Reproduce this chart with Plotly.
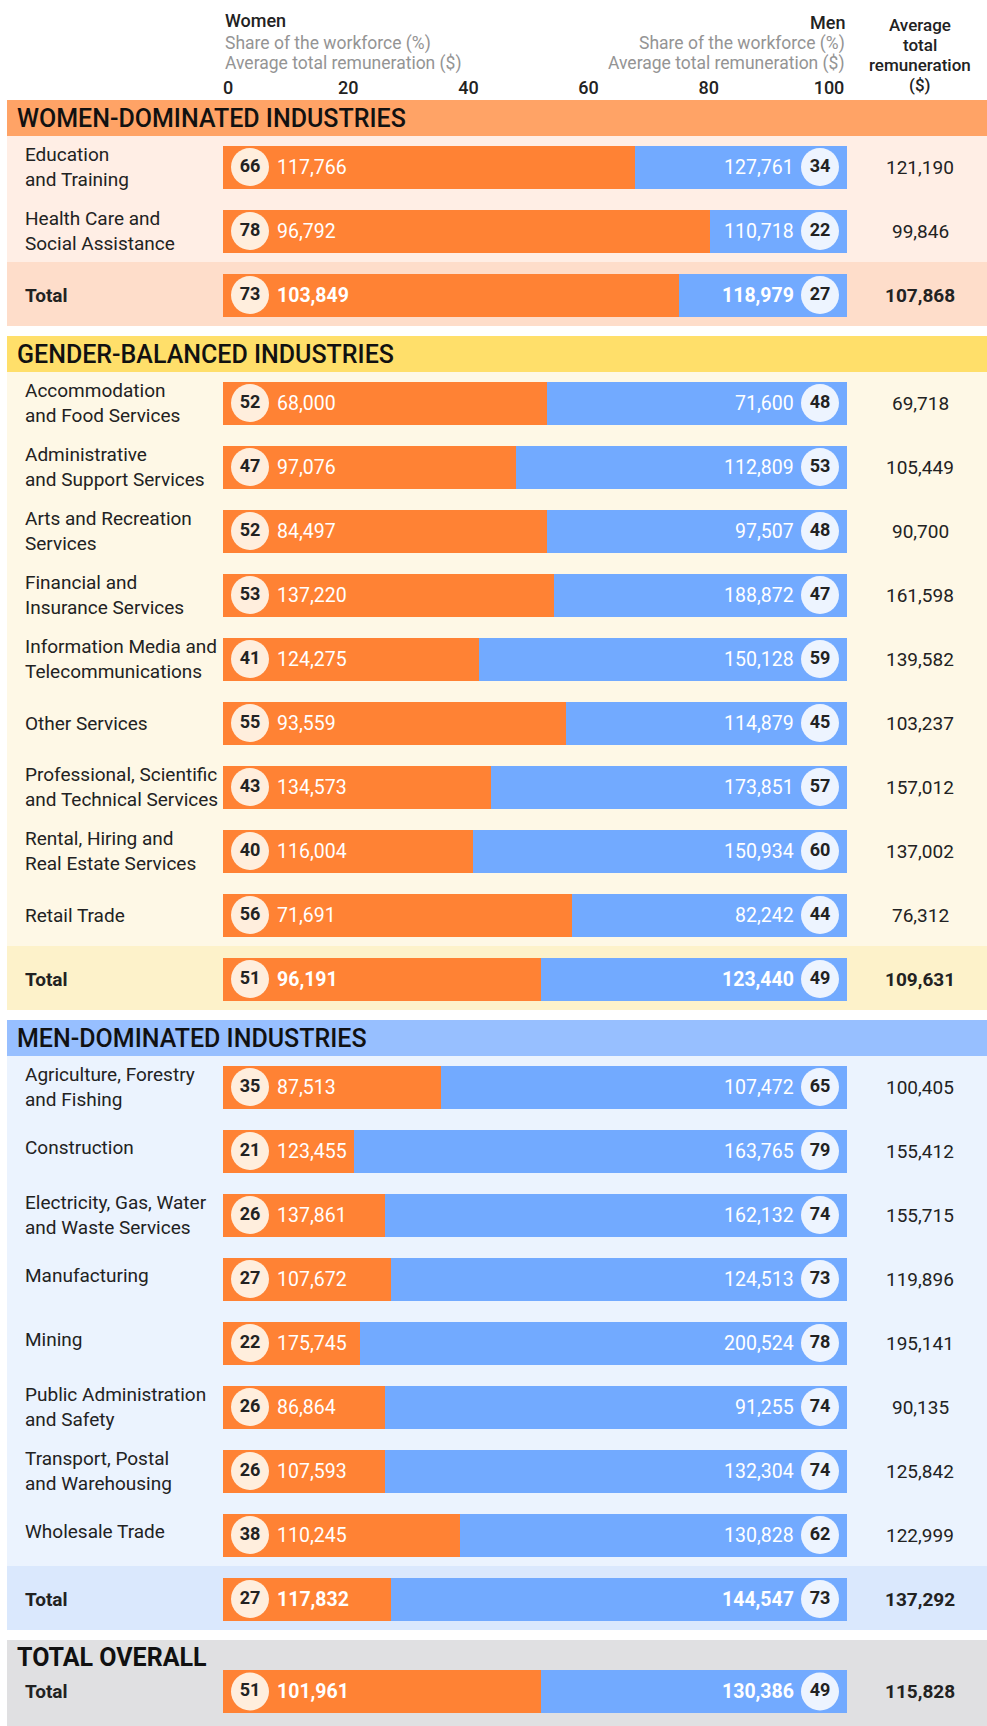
import plotly.graph_objects as go

# ---------------- data ----------------
section_titles = ["WOMEN-DOMINATED INDUSTRIES", "GENDER-BALANCED INDUSTRIES",
                  "MEN-DOMINATED INDUSTRIES", "TOTAL OVERALL"]

industries = [
    "Education<br>and Training", "Health Care and<br>Social Assistance", "Total",
    "Accommodation<br>and Food Services", "Administrative<br>and Support Services",
    "Arts and Recreation<br>Services", "Financial and<br>Insurance Services",
    "Information Media and<br>Telecommunications", "Other Services",
    "Professional, Scientific<br>and Technical Services",
    "Rental, Hiring and<br>Real Estate Services", "Retail Trade", "Total",
    "Agriculture, Forestry<br>and Fishing", "Construction",
    "Electricity, Gas, Water<br>and Waste Services", "Manufacturing", "Mining",
    "Public Administration<br>and Safety", "Transport, Postal<br>and Warehousing",
    "Wholesale Trade", "Total",
    "Total",
]
row_section = [0, 0, 0,
               1, 1, 1, 1, 1, 1, 1, 1, 1, 1,
               2, 2, 2, 2, 2, 2, 2, 2, 2,
               3]
row_is_total = [False, False, True,
                False, False, False, False, False, False, False, False, False, True,
                False, False, False, False, False, False, False, False, True,
                True]

women_share = [66, 78, 73,
               52, 47, 52, 53, 41, 55, 43, 40, 56, 51,
               35, 21, 26, 27, 22, 26, 26, 38, 27,
               51]
men_share = [34, 22, 27,
             48, 53, 48, 47, 59, 45, 57, 60, 44, 49,
             65, 79, 74, 73, 78, 74, 74, 62, 73,
             49]
women_pay = [117766, 96792, 103849,
             68000, 97076, 84497, 137220, 124275, 93559, 134573, 116004, 71691, 96191,
             87513, 123455, 137861, 107672, 175745, 86864, 107593, 110245, 117832,
             101961]
men_pay = [127761, 110718, 118979,
           71600, 112809, 97507, 188872, 150128, 114879, 173851, 150934, 82242, 123440,
           107472, 163765, 162132, 124513, 200524, 91255, 132304, 130828, 144547,
           130386]
avg_pay = [121190, 99846, 107868,
           69718, 105449, 90700, 161598, 139582, 103237, 157012, 137002, 76312, 109631,
           100405, 155412, 155715, 119896, 195141, 90135, 125842, 122999, 137292,
           115828]

axis_ticks = [0, 20, 40, 60, 80, 100]
avg_header_lines = ["Average", "total", "remuneration", "($)"]

# ---------------- styling / layout constants ----------------
W, H = 987, 1726
FONT = "Roboto"
ORANGE = "#FF8234"
BLUE = "#72AAFF"
W_CIRCLE = "#FFEEDD"
M_CIRCLE = "#EDF4FF"
TEXT = "#222222"
GREY = "#949494"

header_colors = ["#FFA366", "#FFDF6A", "#97BFFF", "#E0E0E2"]
rows_colors = ["#FFEEE5", "#FEF8E6", "#EBF3FE", "#E0E0E2"]
total_colors = ["#FEDDCA", "#FDF2CA", "#DAE8FD", "#E0E0E2"]

BAR_L, BAR_R = 223, 847          # pixel extent of the 0..100 bar scale
BAR_H = 43
PX = (BAR_R - BAR_L) / 100.0     # pixels per percentage point
CIRCLE_OFF = 27                  # px from bar end to circle centre
PANEL_X0 = 7
AVG_X = 920
LABEL_X = 23

# ---------------- compute vertical layout ----------------
row_y = [0.0] * len(industries)
shapes = []
header_text_y = {}
y = 100.0
for s in range(4):
    idx = [i for i in range(len(industries)) if row_section[i] == s]
    if s < 3:
        htop, hbot = y, y + 36
        shapes.append(dict(type="rect", xref="paper", yref="y", x0=PANEL_X0 / W, x1=1,
                           y0=htop, y1=hbot, fillcolor=header_colors[s], line_width=0, layer="below"))
        header_text_y[s] = htop + 18
        regular = [i for i in idx if not row_is_total[i]]
        c = hbot + 31
        for k, i in enumerate(regular):
            row_y[i] = c + k * 64
        last = row_y[regular[-1]]
        ttop = last + 31
        shapes.append(dict(type="rect", xref="paper", yref="y", x0=PANEL_X0 / W, x1=1,
                           y0=hbot, y1=ttop, fillcolor=rows_colors[s], line_width=0, layer="below"))
        shapes.append(dict(type="rect", xref="paper", yref="y", x0=PANEL_X0 / W, x1=1,
                           y0=ttop, y1=ttop + 64, fillcolor=total_colors[s], line_width=0, layer="below"))
        for i in idx:
            if row_is_total[i]:
                row_y[i] = ttop + 33
        y = ttop + 64 + 10
    else:
        shapes.append(dict(type="rect", xref="paper", yref="y", x0=PANEL_X0 / W, x1=1,
                           y0=y, y1=H, fillcolor=header_colors[s], line_width=0, layer="below"))
        header_text_y[s] = y + 17
        for i in idx:
            row_y[i] = y + 51.5

fig = go.Figure()

fig.add_trace(go.Bar(orientation="h", y=row_y, x=women_share, base=[0] * len(women_share),
                     width=BAR_H, marker=dict(color=ORANGE, line=dict(width=0)),
                     hoverinfo="skip", showlegend=False))
fig.add_trace(go.Bar(orientation="h", y=row_y, x=men_share, base=women_share,
                     width=BAR_H, marker=dict(color=BLUE, line=dict(width=0)),
                     hoverinfo="skip", showlegend=False))

fig.add_trace(go.Scatter(x=[CIRCLE_OFF / PX] * len(row_y), y=row_y, mode="markers+text",
                         text=[str(v) for v in women_share], textposition="middle center",
                         marker=dict(size=38, color=W_CIRCLE, line=dict(width=0)),
                         textfont=dict(family=FONT, size=18, color=TEXT, weight="bold"),
                         hoverinfo="skip", showlegend=False, cliponaxis=False))
fig.add_trace(go.Scatter(x=[100 - CIRCLE_OFF / PX] * len(row_y), y=row_y, mode="markers+text",
                         text=[str(v) for v in men_share], textposition="middle center",
                         marker=dict(size=38, color=M_CIRCLE, line=dict(width=0)),
                         textfont=dict(family=FONT, size=18, color=TEXT, weight="bold"),
                         hoverinfo="skip", showlegend=False, cliponaxis=False))

# empty trace so that the top tick axis is drawn
fig.add_trace(go.Scatter(x=[None], y=[None], xaxis="x2", yaxis="y2", showlegend=False,
                         hoverinfo="skip"))

annotations = []
for i, lab in enumerate(industries):
    tot = row_is_total[i]
    wt = "bold" if tot else "normal"
    shift = 4 if (row_section[i] == 2 and not tot and "<br>" not in lab) else 0
    annotations.append(dict(x=LABEL_X / W, xref="paper", y=row_y[i], yref="y", yshift=shift,
                            text=lab, showarrow=False, xanchor="left", yanchor="middle",
                            align="left",
                            font=dict(family=FONT, size=19, color=TEXT, weight=wt)))
    annotations.append(dict(x=0, xref="x", y=row_y[i], yref="y", xshift=52,
                            text=f"{women_pay[i]:,}", showarrow=False, xanchor="left",
                            font=dict(family=FONT, size=19.5, color="white", weight=wt)))
    annotations.append(dict(x=100, xref="x", y=row_y[i], yref="y", xshift=-51,
                            text=f"{men_pay[i]:,}", showarrow=False, xanchor="right",
                            font=dict(family=FONT, size=19.5, color="white", weight=wt)))
    annotations.append(dict(x=AVG_X / W, xref="paper", y=row_y[i], yref="y",
                            text=f"{avg_pay[i]:,}", showarrow=False, xanchor="center",
                            font=dict(family=FONT, size=19, color=TEXT, weight=wt)))

for s, title in enumerate(section_titles):
    annotations.append(dict(x=15 / W, xref="paper", y=header_text_y[s], yref="y",
                            text=title, showarrow=False, xanchor="left", yanchor="middle",
                            font=dict(family=FONT, size=25, color="#111111",
                                      weight=500 if s < 3 else "bold")))

annotations += [
    dict(x=BAR_L / W, xref="paper", y=20, yref="y", text="Women", showarrow=False,
         xanchor="left", font=dict(family=FONT, size=18, color=TEXT, weight=500)),
    dict(x=BAR_L / W, xref="paper", y=43, yref="y", text="Share of the workforce (%)",
         showarrow=False, xanchor="left", font=dict(family=FONT, size=17.5, color=GREY)),
    dict(x=BAR_L / W, xref="paper", y=63, yref="y", text="Average total remuneration ($)",
         showarrow=False, xanchor="left", font=dict(family=FONT, size=17.5, color=GREY)),
    dict(x=BAR_R / W, xref="paper", y=22, yref="y", text="Men", showarrow=False,
         xanchor="right", font=dict(family=FONT, size=18, color=TEXT, weight=500)),
    dict(x=BAR_R / W, xref="paper", y=43, yref="y", text="Share of the workforce (%)",
         showarrow=False, xanchor="right", font=dict(family=FONT, size=17.5, color=GREY)),
    dict(x=BAR_R / W, xref="paper", y=63, yref="y", text="Average total remuneration ($)",
         showarrow=False, xanchor="right", font=dict(family=FONT, size=17.5, color=GREY)),
]
for k, line in enumerate(avg_header_lines):
    annotations.append(dict(x=AVG_X / W, xref="paper", y=25 + 20 * k, yref="y",
                            text=line, showarrow=False, xanchor="center", yanchor="middle",
                            font=dict(family=FONT, size=17, color=TEXT, weight=500)))

fig.update_layout(
    template="none",
    width=W, height=H,
    autosize=False,
    margin=dict(l=0, r=0, t=0, b=0, pad=0, autoexpand=False),
    paper_bgcolor="white", plot_bgcolor="rgba(0,0,0,0)",
    barmode="overlay",
    bargap=0,
    xaxis=dict(domain=[BAR_L / W, BAR_R / W], range=[0, 100], visible=False,
               fixedrange=True, automargin=False),
    yaxis=dict(domain=[0, 1], range=[H, 0], visible=False, fixedrange=True, automargin=False),
    xaxis2=dict(domain=[228 / W, 829 / W], range=[0, 100], anchor="y2", side="top",
                tickvals=axis_ticks, ticktext=[str(t) for t in axis_ticks],
                showgrid=False, zeroline=False, showline=False, ticks="", automargin=False,
                tickfont=dict(family=FONT, size=18, color=TEXT, weight=500), fixedrange=True),
    yaxis2=dict(domain=[1 - 100 / H, 1 - 99 / H], visible=False, fixedrange=True,
                automargin=False),
    shapes=shapes,
    annotations=annotations,
    font=dict(family=FONT),
)

fig.write_html(
    "out.html",
    config={"responsive": False, "displayModeBar": False, "staticPlot": True},
    post_script="document.body.style.margin='0';document.documentElement.style.overflow='hidden';document.body.style.overflow='hidden';",
)
